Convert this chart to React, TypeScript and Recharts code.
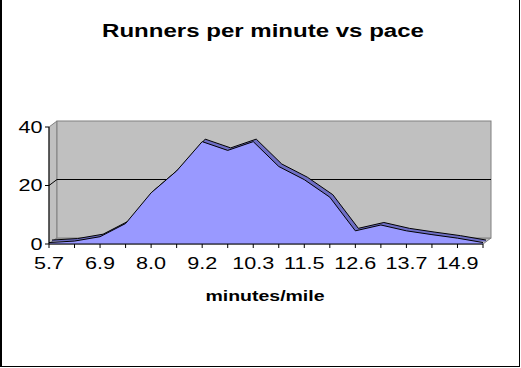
import { AreaChart, Area, XAxis, YAxis, ReferenceArea } from "recharts";

const paces = ["5.7", "6.3", "6.9", "7.4", "8.0", "8.6", "9.2", "9.7", "10.3", "10.9", "11.5", "12.0", "12.6", "13.2", "13.7", "14.3", "14.9", "15.5"];
const runners = [0.5, 1, 2.5, 7, 17.5, 25, 35, 32, 35, 26.5, 22, 16, 4.5, 6.5, 4.5, 3.2, 2, 0.5];
const yTicks = [0, 20, 40];

const data = paces.map((pace, i) => ({ pace, runners: runners[i] }));

const FONT = "Arial, 'Liberation Sans', sans-serif";
const DX = 8; // depth of the 3d walls
const DY = 6;
const SX = 1.35; // old excel text is wide

// grey side wall, floor and back wall behind the plot
function Walls(p: any) {
  const { x, y, width: w, height: h } = p;
  const wall = "#C0C0C0";
  const edge = "#808080";
  return (
    <g>
      <polygon points={`${x},${y} ${x + DX},${y - DY} ${x + DX},${y + h - DY} ${x},${y + h}`} fill={wall} stroke={edge} />
      <polygon points={`${x},${y + h} ${x + DX},${y + h - DY} ${x + w + DX},${y + h - DY} ${x + w},${y + h}`} fill={wall} stroke={edge} />
      <rect x={x + DX} y={y - DY} width={w} height={h} fill={wall} stroke={edge} />
    </g>
  );
}

// gridline on the back wall, drawn at the top of the 0..20 band
function BackGrid(p: any) {
  const { x, y, width: w } = p;
  return (
    <polyline points={`${x},${y} ${x + DX},${y - DY} ${x + w + DX},${y - DY}`} fill="none" stroke="#000" />
  );
}

function XTick(p: any) {
  const { x, y, payload, index } = p;
  if (index % 2) return null;
  return (
    <text transform={`translate(${x},${y + 11}) scale(${SX},1)`} textAnchor="middle" fontFamily={FONT} fontSize={16} fill="#000">
      {payload.value}
    </text>
  );
}

function YTick(p: any) {
  const { x, y, payload } = p;
  return (
    <text transform={`translate(${x},${y + 5.5}) scale(${SX},1)`} textAnchor="end" fontFamily={FONT} fontSize={16} fill="#000">
      {payload.value}
    </text>
  );
}

export default function App() {
  return (
    <div style={{ position: "relative", width: 521, height: 368, background: "#fff" }}>
      <style>{"body{margin:0} .rf-back{transform:translate(3px,-2.5px)}"}</style>
      <AreaChart width={521} height={368} data={data} margin={{ top: 127, right: 38, left: 9, bottom: 94 }}>
        <defs>
          <pattern id="band" width="2" height="2" patternUnits="userSpaceOnUse">
            <rect width="2" height="2" fill="#8C8CF0" />
            <rect width="1" height="1" fill="#505098" />
            <rect x="1" y="1" width="1" height="1" fill="#505098" />
          </pattern>
        </defs>
        <ReferenceArea y1={0} y2={40} shape={Walls} zIndex={-20} />
        <ReferenceArea y1={0} y2={20} shape={BackGrid} zIndex={-10} />
        <XAxis
          dataKey="pace"
          interval={0}
          height={30}
          tickSize={4}
          tickMargin={10}
          axisLine={{ stroke: "#000" }}
          tickLine={{ stroke: "#000" }}
          tick={XTick}
        />
        <YAxis
          domain={[0, 40]}
          ticks={yTicks}
          width={40}
          tickSize={4}
          tickMargin={2.5}
          axisLine={{ stroke: "#000" }}
          tickLine={{ stroke: "#000" }}
          tick={YTick}
        />
        <Area
          className="rf-back"
          type="linear"
          dataKey="runners"
          fill="url(#band)"
          fillOpacity={1}
          stroke="#000"
          strokeWidth={1}
          dot={false}
          activeDot={false}
          isAnimationActive={false}
        />
        <Area
          type="linear"
          dataKey="runners"
          fill="#9999FF"
          fillOpacity={1}
          stroke="#000"
          strokeWidth={1}
          dot={false}
          activeDot={false}
          isAnimationActive={false}
        />
      </AreaChart>
      <svg width={521} height={368} style={{ position: "absolute", left: 0, top: 0, pointerEvents: "none" }}>
        <text transform={`translate(263,37) scale(1.3,1)`} textAnchor="middle" fontFamily={FONT} fontSize={18.5} fontWeight="bold" fill="#000">
          Runners per minute vs pace
        </text>
        <text transform={`translate(265,301) scale(1.3,1)`} textAnchor="middle" fontFamily={FONT} fontSize={15} fontWeight="bold" fill="#000">
          minutes/mile
        </text>
      </svg>
      <div
        style={{
          position: "absolute",
          left: 0,
          top: 0,
          width: 520,
          height: 367,
          boxSizing: "border-box",
          borderLeft: "2px solid #000",
          borderRight: "1px solid #000",
          borderBottom: "1px solid #000",
          pointerEvents: "none",
        }}
      />
    </div>
  );
}
